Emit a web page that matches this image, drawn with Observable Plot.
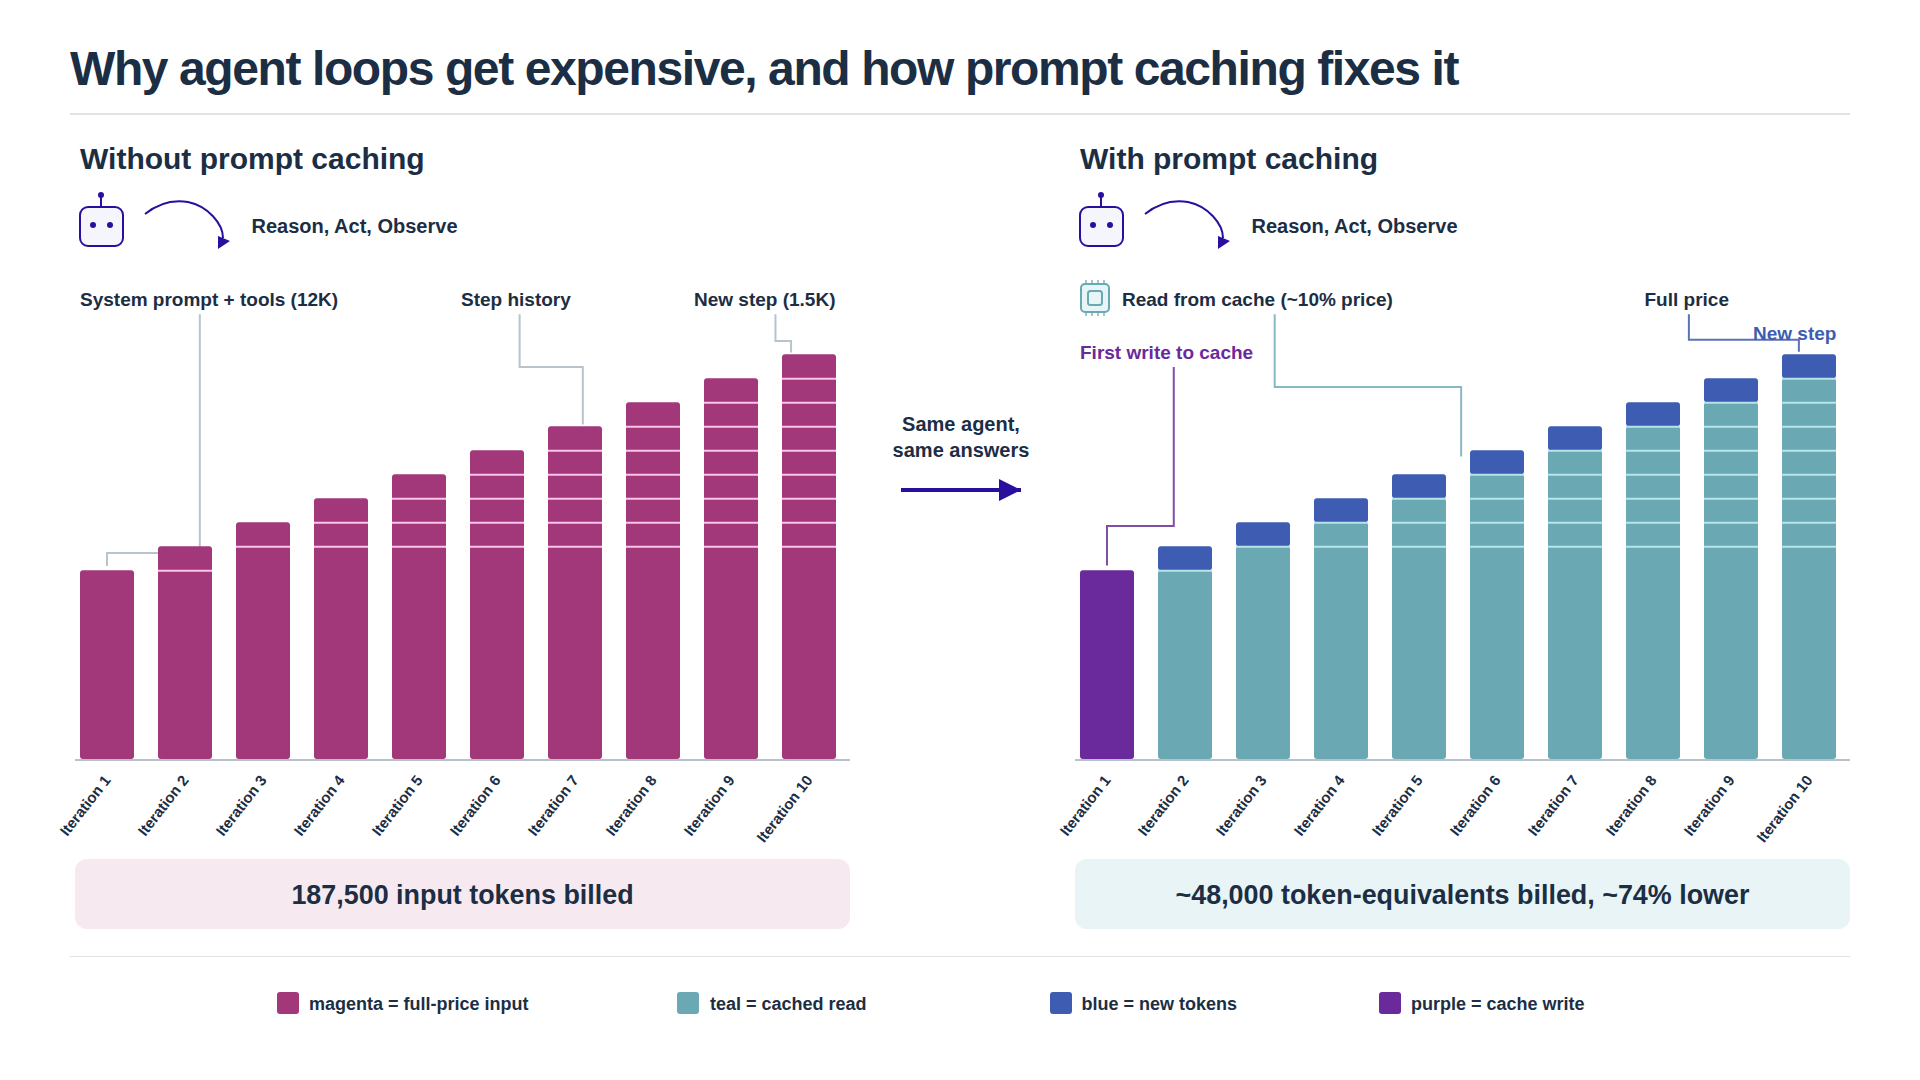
<!DOCTYPE html>
<html><head><meta charset="utf-8">
<script src="https://cdn.jsdelivr.net/npm/d3@7"></script>
<script src="https://cdn.jsdelivr.net/npm/@observablehq/plot@0.6"></script>
<style>
html,body{margin:0;padding:0;background:#fff}
#page{position:relative;width:1920px;height:1080px;overflow:hidden;font-family:"Liberation Sans",Arial,sans-serif;font-weight:700;color:#1c2e44}
.t{position:absolute;white-space:nowrap;transform:translateY(-50%);line-height:1}
.hr{position:absolute;left:70px;width:1780px;height:1.5px;background:#dfe3e7}
.card{position:absolute;top:859px;width:775px;height:70px;border-radius:12px;display:flex;align-items:center;justify-content:center;font-size:26.9px;padding-top:3px;box-sizing:border-box}
.sw{position:absolute;top:992px;width:22px;height:22px;border-radius:3px}
.plot{position:absolute;top:280px;left:60px}
.plot svg{overflow:visible;display:block;background:transparent}
svg.ic{position:absolute;overflow:visible}
</style></head><body><div id="page"></div>
<script>
const iterations = ["Iteration 1","Iteration 2","Iteration 3","Iteration 4","Iteration 5","Iteration 6","Iteration 7","Iteration 8","Iteration 9","Iteration 10"];
const totalTokens = [11800,13300,14800,16300,17800,19300,20800,22300,23800,25300];
const cachedTokens = [0,11800,13300,14800,16300,17800,19300,20800,22300,23800];
const writeTokens = [11800];

const MAGENTA="#a2377a",TEAL="#6aa8b3",BLUE="#3d5cb2",PURPLE="#6a2a9b",INDIGO="#2a0e9e",INK="#1c2e44";
const page=document.getElementById("page");
function add(html){page.insertAdjacentHTML("beforeend",html)}

const separators = iterations.flatMap((it,i)=>
  (i===0 ? [] : i===1 ? totalTokens.slice(0,1) : totalTokens.slice(1,i)).map(v=>({it,v})));

function leader(color,pts){
  // each point: [iteration position (1 = centre of first bar), tokens]
  return (index,{x,y})=>{
    const step=x(iterations[1])-x(iterations[0]), c=x(iterations[0])+x.bandwidth()/2;
    const d=d3.line()(pts.map(([p,v])=>[c+(p-1)*step,y(v)]));
    return d3.create("svg:path").attr("d",d).attr("fill","none").attr("stroke",color).attr("stroke-width",2).node();
  };
}
const common={width:800,height:600,marginLeft:15,marginRight:10,marginTop:15,marginBottom:121,
  style:{background:"transparent",overflow:"visible"},
  x:{domain:iterations,range:[20,776],paddingInner:24/78,paddingOuter:0,label:null,axis:null},
  y:{domain:[0,29000],range:[479,15],axis:null}};
function xAxis(){return Plot.axisX(iterations,{tickSize:0,tickRotate:-52,tickPadding:18,fontSize:15,fontWeight:700,fill:INK,fontFamily:"Liberation Sans",label:null,anchor:"bottom",dx:0})}
const base=Plot.ruleY([0],{stroke:"#b8c2cb",strokeWidth:2,dy:0.5});

const left=Plot.plot({...common,marks:[
  leader("#b9c3cc",[[2.19,27800],[2.19,12870],[1,12870],[1,12060]]),
  leader("#b9c3cc",[[6.29,27800],[6.29,24500],[7.1,24500],[7.1,20900]]),
  leader("#b9c3cc",[[9.57,27800],[9.57,26125],[9.77,26125],[9.77,25400]]),
  Plot.barY(iterations.map((it,i)=>({it,v:totalTokens[i]})),{x:"it",y:"v",fill:MAGENTA,rx:3}),
  Plot.tickY(separators,{x:"it",y:"v",stroke:"#fbc6ea",strokeWidth:2}),
  base,xAxis()
]});
const stack=iterations.map((it,i)=>({it,a:cachedTokens[i],b:totalTokens[i]})).slice(1);
const right=Plot.plot({...common,marks:[
  leader("#7f4fa6",[[1.856,24500],[1.856,14560],[1,14560],[1,12100]]),
  leader("#8ab8c1",[[3.15,27800],[3.15,23250],[5.54,23250],[5.54,18900]]),
  leader("#5b73b5",[[8.46,27800],[8.46,26200],[9.87,26200],[9.87,25450]]),
  Plot.barY(stack,{x:"it",y1:0,y2:"a",fill:TEAL,rx:3}),
  Plot.barY(stack,{x:"it",y1:"a",y2:"b",fill:BLUE,rx:3}),
  Plot.barY(writeTokens.map((v,i)=>({it:iterations[i],v})),{x:"it",y:"v",fill:PURPLE,rx:3}),
  Plot.tickY(separators,{x:"it",y:"v",stroke:"#b9e4ea",strokeWidth:2}),
  base,xAxis()
]});

add(`<div class="t" style="left:70px;top:69px;font-size:48px;letter-spacing:-1.4px">Why agent loops get expensive, and how prompt caching fixes it</div>
<div class="hr" style="top:113px"></div><div class="hr" style="top:955.5px"></div>`);
const pl=document.createElement("div");pl.className="plot";pl.appendChild(left);page.appendChild(pl);
const pr=document.createElement("div");pr.className="plot";pr.style.left="1060px";pr.appendChild(right);page.appendChild(pr);

function robot(dx){return `<svg class="ic" style="left:${dx}px;top:0" width="300" height="260">
<line x1="101" y1="195" x2="101" y2="207" stroke="${INDIGO}" stroke-width="2"/><circle cx="101" cy="195" r="3" fill="${INDIGO}"/>
<rect x="80" y="207" width="43" height="39" rx="8" fill="#f4f6fb" stroke="${INDIGO}" stroke-width="2"/>
<circle cx="93" cy="225" r="3" fill="${INDIGO}"/><circle cx="110" cy="225" r="3" fill="${INDIGO}"/>
<path d="M145 214C160 202 176 200 188 202C208 206 223 224 223 238" fill="none" stroke="${INDIGO}" stroke-width="2"/>
<path d="M218 236L230 241L218 249Z" fill="${INDIGO}"/></svg>`}
add(robot(0)+robot(1000));

[["Without prompt caching",80],["With prompt caching",1080]].forEach(([s,x])=>add(`<div class="t" style="left:${x}px;top:159px;font-size:30px">${s}</div>`));
[["Reason, Act, Observe",251.5,225.5,INK,20],["Reason, Act, Observe",1251.5,225.5,INK,20],
 ["System prompt + tools (12K)",80,299.4,INK,19],["Step history",461,299.4,INK,19],["New step (1.5K)",694,299.4,INK,19],
 ["Read from cache (~10% price)",1122,299.4,INK,19],["Full price",1644.5,299.4,INK,19],
 ["First write to cache",1080,352.4,PURPLE,19],["New step",1753,333.4,BLUE,19]
].forEach(([s,x,y,c,f])=>add(`<div class="t" style="left:${x}px;top:${y}px;font-size:${f}px;color:${c}">${s}</div>`));

add(`<svg class="ic" style="left:1080px;top:280px" width="32" height="36">
<g stroke="#7fb6bd" stroke-width="1.5"><line x1="6" y1="0" x2="6" y2="36"/><line x1="12" y1="0" x2="12" y2="36"/><line x1="18" y1="0" x2="18" y2="36"/><line x1="24" y1="0" x2="24" y2="36"/></g>
<rect x="1" y="4" width="28" height="28" rx="4" fill="#e8f5f6" stroke="#6aa8b3" stroke-width="2"/>
<rect x="8" y="11" width="14" height="14" rx="2.5" fill="#e8f5f6" stroke="#6aa8b3" stroke-width="2"/></svg>`);

add(`<div class="t" style="left:861px;width:200px;text-align:center;top:424px;font-size:20px">Same agent,</div>
<div class="t" style="left:861px;width:200px;text-align:center;top:450px;font-size:20px">same answers</div>
<svg class="ic" style="left:900px;top:475px" width="125" height="30"><line x1="1" y1="15" x2="121" y2="15" stroke="${INDIGO}" stroke-width="4"/><path d="M99 4L121 15L99 26Z" fill="${INDIGO}"/></svg>`);

add(`<div class="card" style="left:75px;background:#f7e9f0">187,500 input tokens billed</div>
<div class="card" style="left:1075px;background:#e8f4f5">~48,000 token-equivalents billed, ~74% lower</div>`);

[["magenta = full-price input",MAGENTA,277,309],["teal = cached read",TEAL,677,710],["blue = new tokens",BLUE,1049.5,1081.5],["purple = cache write",PURPLE,1379,1411]]
.forEach(([s,c,x,tx])=>add(`<div class="sw" style="left:${x}px;background:${c}"></div><div class="t" style="left:${tx}px;top:1004px;font-size:18px">${s}</div>`));
</script></body></html>
